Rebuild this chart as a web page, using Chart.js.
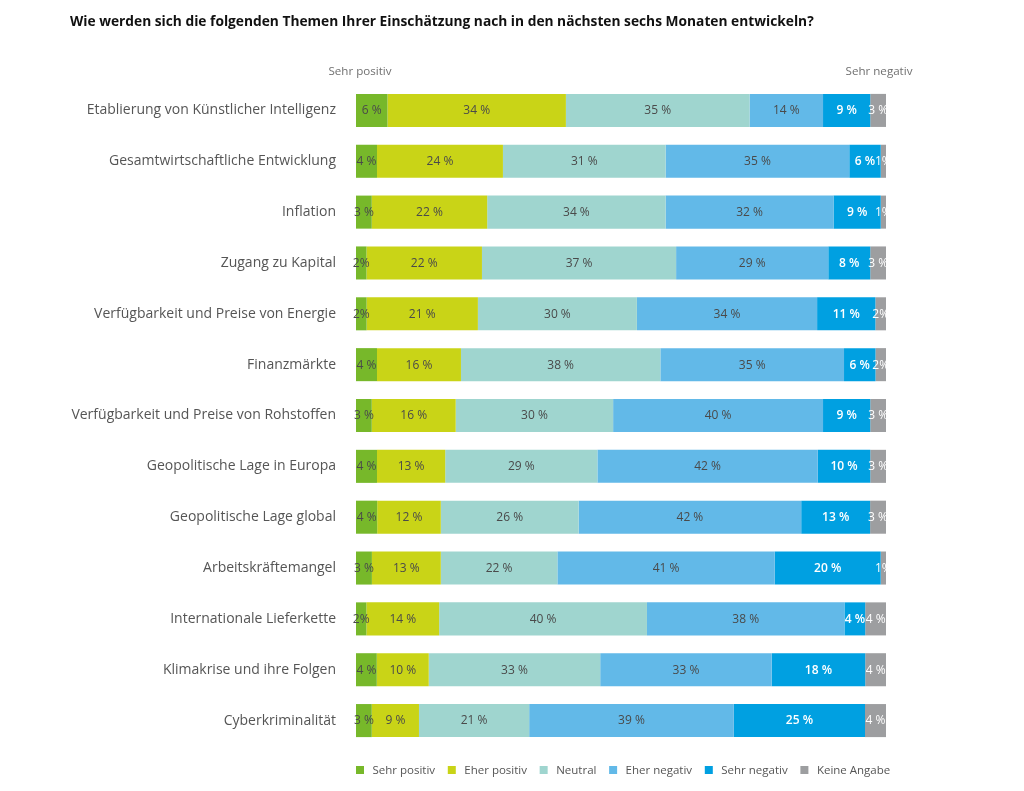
<!DOCTYPE html>
<html><head><meta charset="utf-8">
<script src="https://cdn.jsdelivr.net/npm/chart.js@4/dist/chart.umd.min.js"></script>
<style>html,body{margin:0;padding:0;background:#fff}#wrap{position:relative;width:1024px;height:791px}</style>
</head><body><div id="wrap"><canvas id="c" width="1024" height="791"></canvas></div>
<script>
const categories = [
  "Etablierung von Künstlicher Intelligenz",
  "Gesamtwirtschaftliche Entwicklung",
  "Inflation",
  "Zugang zu Kapital",
  "Verfügbarkeit und Preise von Energie",
  "Finanzmärkte",
  "Verfügbarkeit und Preise von Rohstoffen",
  "Geopolitische Lage in Europa",
  "Geopolitische Lage global",
  "Arbeitskräftemangel",
  "Internationale Lieferkette",
  "Klimakrise und ihre Folgen",
  "Cyberkriminalität"
];
const seriesNames = ["Sehr positiv","Eher positiv","Neutral","Eher negativ","Sehr negativ","Keine Angabe"];
const sehrPositiv = [6,4,3,2,2,4,3,4,4,3,2,4,3];
const eherPositiv = [34,24,22,22,21,16,16,13,12,13,14,10,9];
const neutral     = [35,31,34,37,30,38,30,29,26,22,40,33,21];
const eherNegativ = [14,35,32,29,34,35,40,42,42,41,38,33,39];
const sehrNegativ = [9,6,9,8,11,6,9,10,13,20,4,18,25];
const keineAngabe = [3,1,1,3,2,2,3,3,3,1,4,4,4];
const seriesValues = [sehrPositiv,eherPositiv,neutral,eherNegativ,sehrNegativ,keineAngabe];
const colors = ["#77b82a","#c9d417","#9fd5cf","#62b9e8","#00a0e1","#9d9ea0"];
const labelColors = ["#4a4a4a","#4a4a4a","#4a4a4a","#4a4a4a","#ffffff","#ffffff"];

const rowSums = categories.map((_,i)=>seriesValues.reduce((s,a)=>s+a[i],0));
const datasets = seriesNames.map((n,k)=>({
  label:n,
  data: seriesValues[k].map((v,i)=>v/rowSums[i]*100),
  raw: seriesValues[k],
  backgroundColor: colors[k],
  borderWidth:0,
  barPercentage:0.65,
  categoryPercentage:1
}));

const FONT = "'Open Sans', sans-serif";
const deco = {
  id:'deco',
  afterDatasetsDraw(chart){
    const ctx = chart.ctx;
    ctx.save();
    chart.data.datasets.forEach((ds,k)=>{
      const meta = chart.getDatasetMeta(k);
      meta.data.forEach((el,i)=>{
        const cx = (el.x + el.base)/2;
        const w = Math.abs(el.x - el.base);
        ctx.font = (k===4? "600 ":"") + "12px " + FONT;
        ctx.fillStyle = labelColors[k];
        ctx.textAlign='center'; ctx.textBaseline='middle';
        const txt = w < 14 ? ds.raw[i] + "%" : ds.raw[i] + " %";
        ctx.fillText(txt, cx, el.y+0.5);
      });
    });
    // title
    ctx.fillStyle="#111";
    ctx.font="bold 13.75px "+FONT;
    ctx.textAlign='left'; ctx.textBaseline='middle';
    ctx.fillText("Wie werden sich die folgenden Themen Ihrer Einschätzung nach in den nächsten sechs Monaten entwickeln?",70,22);
    // end labels
    ctx.fillStyle="#707070";
    ctx.font="11.6px "+FONT;
    ctx.textAlign='center';
    ctx.fillText("Sehr positiv",360,72);
    ctx.fillText("Sehr negativ",879,72);
    // legend
    ctx.font="11.5px "+FONT;
    ctx.textAlign='left';
    let x = 356;
    chart.data.datasets.forEach((ds,k)=>{
      ctx.fillStyle=ds.backgroundColor;
      ctx.fillRect(x,766,8,8);
      ctx.fillStyle="#555";
      ctx.fillText(ds.label,x+16.5,770.5);
      x += 16.5 + ctx.measureText(ds.label).width + 12.7;
    });
    ctx.restore();
  }
};

new Chart(document.getElementById('c'),{
  type:'bar',
  data:{labels:categories,datasets},
  options:{
    indexAxis:'y',
    responsive:false,
    animation:false,
    layout:{padding:{top:85,bottom:45,right:138,left:0}},
    plugins:{legend:{display:false},title:{display:false},tooltip:{enabled:false}},
    scales:{
      x:{stacked:true,min:0,max:100,display:false},
      y:{stacked:true,
        grid:{display:false},border:{display:false},
        ticks:{padding:12,color:"#555",font:{family:"'Open Sans', sans-serif",size:14}},
        afterFit(s){s.width=356;}
      }
    }
  },
  plugins:[deco]
});
</script></body></html>
